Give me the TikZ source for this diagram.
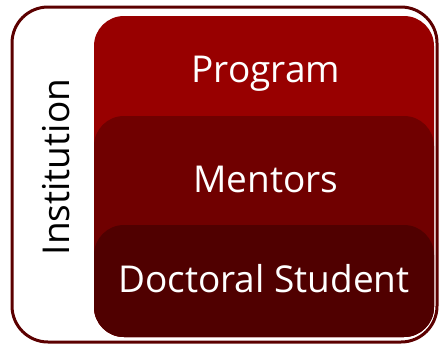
\documentclass[tikz,border=0pt]{standalone}
\usepackage{fontspec}
\setmainfont{Open Sans}
\definecolor{prog}{HTML}{980000}
\definecolor{ment}{HTML}{700000}
\definecolor{doct}{HTML}{500000}
\definecolor{outer}{HTML}{5C0000}
\begin{document}
\begin{tikzpicture}[x=1pt,y=-1pt,
  layer/.style={rounded corners=30pt},
  lbl/.style={text=white,font=\fontsize{37}{44}\selectfont,inner sep=0pt,anchor=base}]
\useasboundingbox (0,0) rectangle (441,346);
\draw[outer,line width=3pt,fill=white,rounded corners=36pt] (12,7) rectangle (437,342);
\fill[layer,prog] (94,16) rectangle (434,337);
\fill[layer,ment] (94,116) rectangle (434,337);
\fill[layer,doct] (94,225) rectangle (434,337);
\node[lbl] (p) at (266,82) {Program};
\node[lbl] (m) at (266,192) {Mentors};
\node[lbl] (d) at (264,292) {Doctoral Student};
\node[rotate=90,font=\fontsize{37}{44}\selectfont,inner sep=0pt] (i) at (56,167) {Institution};
\end{tikzpicture}
\end{document}
